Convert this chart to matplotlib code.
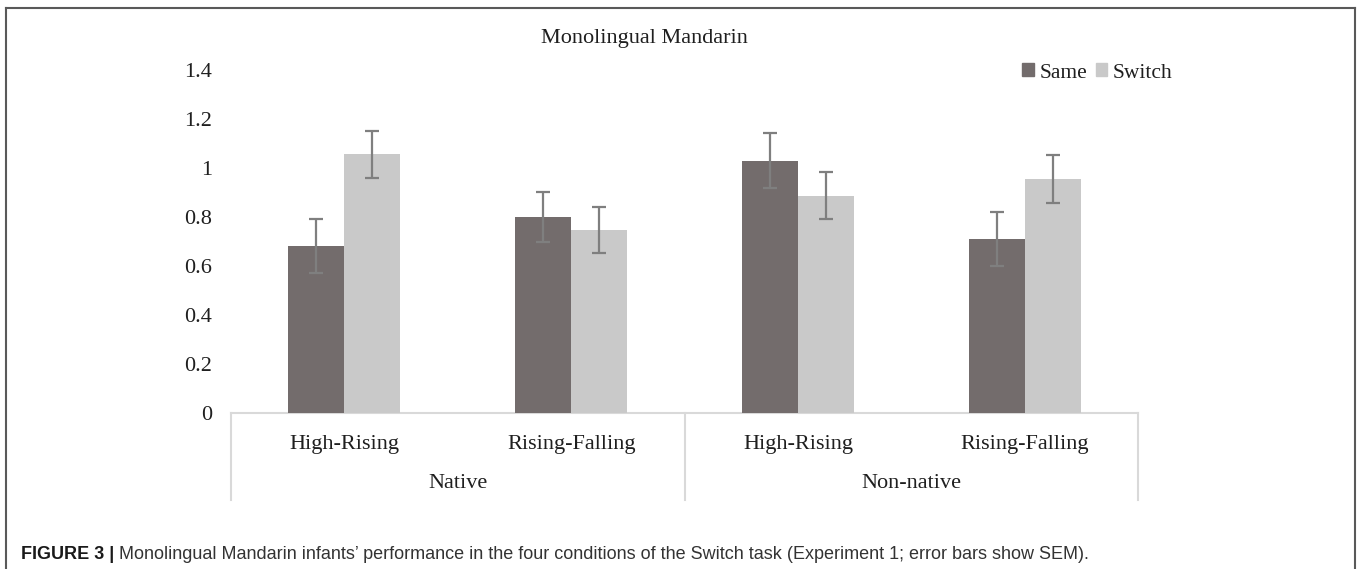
import numpy as np
import matplotlib
matplotlib.use("Agg")
import matplotlib.pyplot as plt
from matplotlib.patches import Patch
from matplotlib.lines import Line2D

# data
tones = ["High-Rising", "Rising-Falling", "High-Rising", "Rising-Falling"]
groups = ["Native", "Non-native"]
same_vals = [0.68, 0.80, 1.03, 0.71]
same_err = [0.11, 0.104, 0.112, 0.111]
switch_vals = [1.057, 0.747, 0.887, 0.955]
switch_err = [0.096, 0.093, 0.097, 0.097]
yticks = [0, 0.2, 0.4, 0.6, 0.8, 1, 1.2, 1.4]
ytick_labels = ["0", "0.2", "0.4", "0.6", "0.8", "1", "1.2", "1.4"]

W, H = 1357, 569
fig = plt.figure(figsize=(W / 100, H / 100), dpi=100)
serif = "Liberation Serif"
txt_col = "#1f1f1f"
fs = 16

ax = fig.add_axes([231 / W, 1 - 413 / H, (1138 - 231) / W, (413 - 70) / H])
x = np.arange(len(tones))
bw = 0.247
ekw = dict(ecolor="#7f7f7f", elinewidth=1.6, capsize=5, capthick=1.6)
ax.bar(x - bw / 2, same_vals, bw, color="#736c6c", yerr=same_err, error_kw=ekw, label="Same")
ax.bar(x + bw / 2, switch_vals, bw, color="#c9c9c9", yerr=switch_err, error_kw=ekw, label="Switch")

ax.set_xlim(-0.5, 3.5)
ax.set_ylim(0, 1.4)
for s in ["top", "right", "left", "bottom"]:
    ax.spines[s].set_visible(False)
ax.axhline(0, color="#d9d9d9", lw=1.5, clip_on=False, zorder=0)
ax.set_yticks(yticks)
ax.set_yticklabels(ytick_labels, fontfamily=serif, fontsize=fs, color=txt_col)
ax.tick_params(axis="y", length=0, pad=13.5)
ax.set_xticks([])

# multi-level category axis
trans = ax.get_xaxis_transform()
box_h = (500 - 413) / (413 - 70)
for xv in [-0.5, 1.5, 3.5]:
    ax.add_line(Line2D([xv, xv], [0, -box_h], transform=trans, color="#d9d9d9", lw=1.5, clip_on=False))
for i, t in enumerate(tones):
    ax.text(i, -31 / 343, t, transform=trans, ha="center", va="center",
            fontfamily=serif, fontsize=fs, color=txt_col)
for j, g in enumerate(groups):
    ax.text(2 * j + 0.5, -71 / 343, g, transform=trans, ha="center", va="center",
            fontfamily=serif, fontsize=fs, color=txt_col)

fig.text(644 / W, 1 - 38 / H, "Monolingual Mandarin", ha="center", va="center",
         fontfamily=serif, fontsize=fs, color=txt_col)

handles = [Patch(color="#736c6c"), Patch(color="#c9c9c9")]
fig.legend(handles, ["Same", "Switch"], loc="center left", bbox_to_anchor=(1022 / W, 1 - 73 / H),
           ncol=2, frameon=False, handlelength=0.55, handleheight=0.55, handletextpad=0.25,
           columnspacing=0.4, borderpad=0, borderaxespad=0,
           prop={"family": serif, "size": 15.5})
for t in fig.legends[0].get_texts():
    t.set_color(txt_col)

# outer frame (open at the bottom)
frame_col = "#595959"
fig.add_artist(Line2D([6 / W, 6 / W], [0, 1 - 8 / H], transform=fig.transFigure, color=frame_col, lw=1.5))
fig.add_artist(Line2D([1355 / W, 1355 / W], [0, 1 - 8 / H], transform=fig.transFigure, color=frame_col, lw=1.5))
fig.add_artist(Line2D([6 / W, 1355 / W], [1 - 8 / H, 1 - 8 / H], transform=fig.transFigure, color=frame_col, lw=1.5))

# caption
cap_y = 1 - 559 / H
bold = fig.text(21 / W, cap_y, "FIGURE 3 |", ha="left", va="baseline",
                fontfamily="Liberation Sans", fontweight="bold", fontsize=13, color="#1a1a1a")
fig.canvas.draw()
bb = bold.get_window_extent(fig.canvas.get_renderer())
fig.text((bb.x1 + 5) / W, cap_y,
         "Monolingual Mandarin infants\u2019 performance in the four conditions of the Switch task "
         "(Experiment 1; error bars show SEM).",
         ha="left", va="baseline", fontfamily="Liberation Sans", fontsize=13, color="#333333")

fig.savefig("out.png", dpi=100)
